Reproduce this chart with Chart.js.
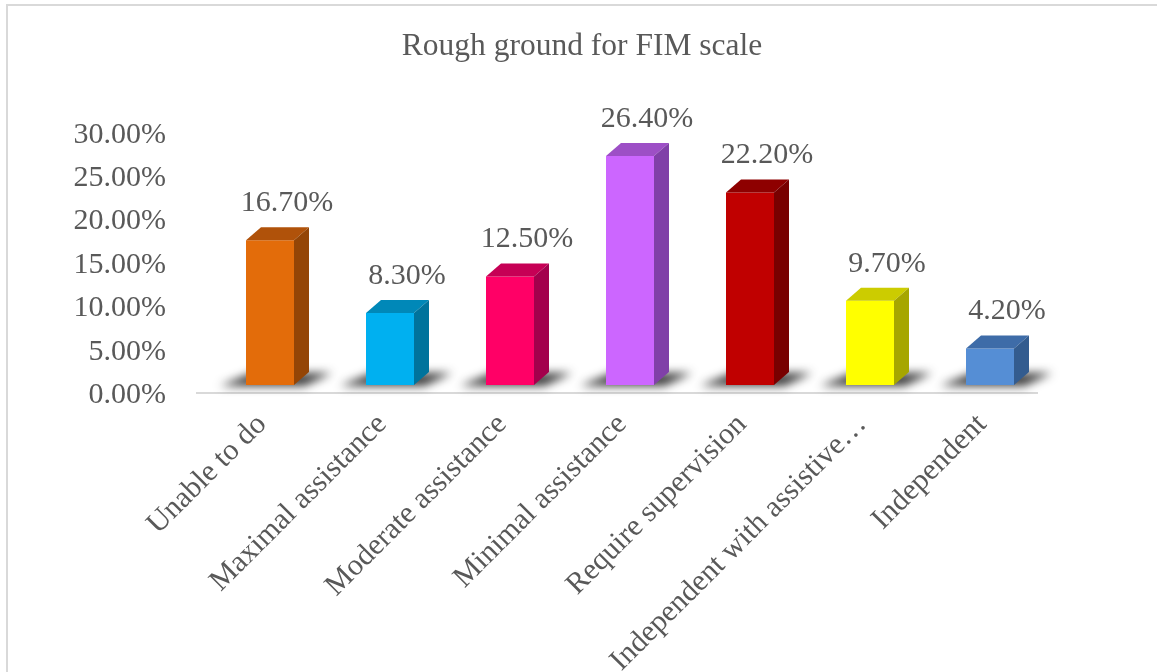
<!DOCTYPE html>
<html>
<head>
<meta charset="utf-8">
<script src="https://cdn.jsdelivr.net/npm/chart.js@4/dist/chart.umd.min.js"></script>
<style>
  html, body { margin: 0; padding: 0; background: #ffffff; }
  #wrap { position: relative; width: 1157px; height: 672px; overflow: hidden; }
  #frame { position: absolute; left: 6px; top: 4px; width: 1200px; height: 700px;
           border-left: 2px solid #d9d9d9; border-top: 2px solid #d9d9d9; box-sizing: border-box; }
  canvas { position: absolute; left: 0; top: 0; }
</style>
</head>
<body>
<div id="wrap">
  <div id="frame"></div>
  <canvas id="chart" width="1157" height="672"></canvas>
</div>
<script>
// FIM levels and their share of patients (percent)
const categories = [
  "Unable to do",
  "Maximal assistance",
  "Moderate assistance",
  "Minimal assistance",
  "Require supervision",
  "Independent with assistive…",
  "Independent"
];
const shares = [16.7, 8.3, 12.5, 26.4, 22.2, 9.7, 4.2];
const tickValues = [0, 5, 10, 15, 20, 25, 30];

// face colours of each box: front, top, right side
const frontColors = ["#E36C0A", "#00B0F0", "#FF0066", "#CC66FF", "#C00000", "#FFFF00", "#558ED5"];
const topColors   = ["#B0520A", "#0088B8", "#C60055", "#9D4FC6", "#8E0000", "#CCCC00", "#3E6CA8"];
const sideColors  = ["#944506", "#00739C", "#A3004C", "#8040A8", "#780000", "#A6A600", "#335C8F"];

const TEXT = "#595959";
const SERIF = "'Liberation Serif', 'Times New Roman', serif";
const LIFT = 10;        // boxes stand a little above the floor edge
const DX = 15, DY = 13; // depth of each box

const boxes3d = {
  id: "boxes3d",
  beforeDatasetsDraw(chart) {
    const ctx = chart.ctx;
    const meta = chart.getDatasetMeta(0);
    // floor edge
    ctx.save();
    ctx.strokeStyle = "#d9d9d9";
    ctx.lineWidth = 2;
    ctx.beginPath();
    ctx.moveTo(chart.chartArea.left - 14, chart.chartArea.bottom - 2);
    ctx.lineTo(chart.chartArea.right - 12, chart.chartArea.bottom - 2);
    ctx.stroke();
    ctx.restore();
    // soft shadows at the foot of each box
    meta.data.forEach((bar) => {
      const l = bar.x - bar.width / 2, r = bar.x + bar.width / 2;
      const b = bar.base - LIFT;
      ctx.save();
      ctx.filter = "blur(5px)";
      ctx.fillStyle = "rgba(25,25,25,0.85)";
      ctx.beginPath();
      ctx.moveTo(l - 26, b + 1);
      ctx.lineTo(r + 10, b + 1);
      ctx.lineTo(r + 38, b - 12);
      ctx.lineTo(l + 6, b - 12);
      ctx.closePath();
      ctx.fill();
      ctx.restore();
    });
    ctx.save();
    ctx.translate(0, -LIFT);
  },
  afterDatasetsDraw(chart) {
    const ctx = chart.ctx;
    ctx.restore();
    const meta = chart.getDatasetMeta(0);
    meta.data.forEach((bar, i) => {
      const l = bar.x - bar.width / 2, r = bar.x + bar.width / 2;
      const t = bar.y - LIFT, b = bar.base - LIFT;
      ctx.save();
      ctx.fillStyle = topColors[i];
      ctx.beginPath();
      ctx.moveTo(l, t);
      ctx.lineTo(l + DX, t - DY);
      ctx.lineTo(r + DX, t - DY);
      ctx.lineTo(r, t);
      ctx.closePath();
      ctx.fill();
      ctx.fillStyle = sideColors[i];
      ctx.beginPath();
      ctx.moveTo(r, t);
      ctx.lineTo(r + DX, t - DY);
      ctx.lineTo(r + DX, b - DY);
      ctx.lineTo(r, b);
      ctx.closePath();
      ctx.fill();
      // value label
      ctx.fillStyle = TEXT;
      ctx.font = "30px " + SERIF;
      ctx.textAlign = "center";
      ctx.textBaseline = "middle";
      ctx.fillText(shares[i].toFixed(2) + "%", bar.x + 17, t - 37);
      ctx.restore();
    });
  }
};

new Chart(document.getElementById("chart"), {
  type: "bar",
  data: {
    labels: categories,
    datasets: [{
      data: shares,
      backgroundColor: frontColors,
      borderWidth: 0,
      barPercentage: 0.4,
      categoryPercentage: 1.0
    }]
  },
  options: {
    responsive: false,
    animation: false,
    events: [],
    layout: { padding: { left: 7, right: 0, top: 0, bottom: 0 } },
    plugins: {
      legend: { display: false },
      tooltip: { enabled: false },
      title: {
        display: true,
        text: "Rough ground for FIM scale",
        color: TEXT,
        font: { family: SERIF, size: 31.5, weight: "normal" },
        padding: { top: 28, bottom: 69 }
      }
    },
    scales: {
      x: {
        grid: { display: false, drawTicks: false },
        border: { display: false },
        ticks: {
          color: TEXT,
          font: { family: SERIF, size: 30 },
          maxRotation: 45,
          minRotation: 45,
          autoSkip: false,
          padding: 12,
          labelOffset: -8
        },
        afterFit(scale) { scale.height = 277; }
      },
      y: {
        min: 0,
        max: 30,
        grid: { display: false, drawTicks: false },
        border: { display: false },
        afterBuildTicks(scale) { scale.ticks = tickValues.map(v => ({ value: v })); },
        ticks: {
          color: TEXT,
          font: { family: SERIF, size: 30 },
          padding: 44,
          callback: (v) => v.toFixed(2) + "%"
        },
        afterFit(scale) { scale.width = 203; }
      },
      // empty margin on the right of the plot
      margin: {
        type: "linear",
        position: "right",
        display: true,
        grid: { display: false, drawTicks: false },
        border: { display: false },
        ticks: { display: false },
        afterFit(scale) { scale.width = 107; }
      }
    }
  },
  plugins: [boxes3d]
});
</script>
</body>
</html>
